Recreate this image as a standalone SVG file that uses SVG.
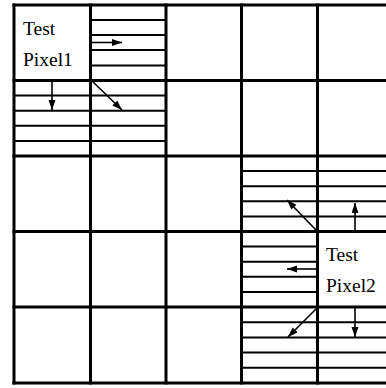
<svg xmlns="http://www.w3.org/2000/svg" width="386" height="388" viewBox="0 0 386 388">
<style>
.grid{stroke:#000;stroke-width:3;fill:none}
.stripe{stroke:#000;stroke-width:2;fill:none}
.arrow{stroke:#000;stroke-width:1.6;fill:none;marker-end:url(#ah)}
.lbl{font-family:"Liberation Serif","Times New Roman",serif;font-size:19.5px;fill:#000}
</style>
<defs>
<marker id="ah" markerUnits="userSpaceOnUse" markerWidth="11" markerHeight="8" refX="10" refY="3.5" orient="auto">
<path d="M0,0 L10,3.5 L0,7 Z" fill="#000"/>
</marker>
</defs>
<rect width="386" height="388" fill="#fff"/>
<g id="stripes">
<path class="stripe" d="M90.5,20H166M90.5,35H166M90.5,50H166M90.5,65.5H166"/>
<path class="stripe" d="M14,95.6H166M14,110.7H166M14,125.8H166M14,141H166"/>
<path class="stripe" d="M241.5,171.1H386M241.5,186.2H386M241.5,201.3H386M241.5,216.4H386"/>
<path class="stripe" d="M241.5,246.6H317.5M241.5,261.7H317.5M241.5,276.8H317.5M241.5,291.9H317.5"/>
<path class="stripe" d="M241.5,322.2H386M241.5,337.4H386M241.5,352.6H386M241.5,367.8H386"/>
</g>
<g id="grid">
<path class="grid" d="M14,3.5V384.5M90.5,3.5V384.5M166,3.5V384.5M241.5,3.5V384.5M317.5,3.5V384.5"/>
<path class="grid" d="M12.5,5H386M12.5,80.5H386M12.5,156H386M12.5,231.5H386M12.5,307H386M12.5,383H386"/>
</g>
<g id="test-pixel1">
<text class="lbl" x="23" y="35">Test</text>
<text class="lbl" x="23" y="66">Pixel1</text>
</g>
<g id="test-pixel2">
<text class="lbl" x="326" y="261">Test</text>
<text class="lbl" x="326" y="292">Pixel2</text>
</g>
<g id="connectors">
<line class="arrow" x1="92" y1="42.5" x2="122" y2="42.5"/>
<line class="arrow" x1="52" y1="81" x2="52" y2="110"/>
<line class="arrow" x1="92" y1="81" x2="122" y2="110"/>
<line class="arrow" x1="355" y1="231" x2="355" y2="203"/>
<line class="arrow" x1="316" y1="230" x2="287" y2="200"/>
<line class="arrow" x1="316" y1="269" x2="287" y2="269"/>
<line class="arrow" x1="316" y1="309" x2="288" y2="337"/>
<line class="arrow" x1="355" y1="307" x2="355" y2="337"/>
</g>
</svg>
